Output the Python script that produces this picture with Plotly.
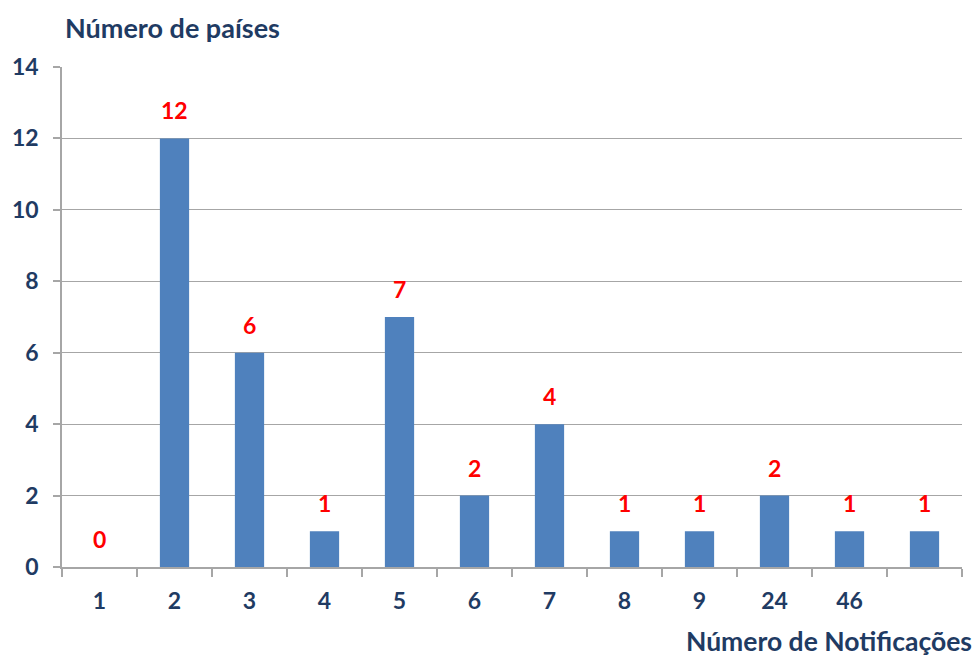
import plotly.graph_objects as go

categories = ["1", "2", "3", "4", "5", "6", "7", "8", "9", "24", "46", ""]
values = [0, 12, 6, 1, 7, 2, 4, 1, 1, 2, 1, 1]
y_ticks = [0, 2, 4, 6, 8, 10, 12, 14]

navy = "#1F3B63"
grid = "#A6A6A6"
font_family = "Lato, 'Open Sans', sans-serif"

xpos = list(range(len(categories)))

fig = go.Figure()
fig.add_trace(go.Bar(
    x=xpos, y=values, width=0.39,
    marker=dict(color="#4F81BD", line=dict(width=0)),
    hoverinfo="skip",
))

for xi, v in zip(xpos, values):
    fig.add_annotation(
        x=xi, y=v, xref="x", yref="y", text=f"<b>{v}</b>",
        showarrow=False, yanchor="bottom", yshift=12,
        font=dict(family=font_family, size=23, color="#FF0000"),
    )

fig.add_annotation(
    x=0, y=1, xref="paper", yref="paper", xanchor="left", yanchor="middle",
    xshift=1, yshift=40, text="<b>Número de países</b>", showarrow=False,
    font=dict(family=font_family, size=27, color=navy),
)
fig.add_annotation(
    x=1, y=0, xref="paper", yref="paper", xanchor="right", yanchor="middle",
    xshift=12, yshift=-74, text="<b>Número de Notificações</b>", showarrow=False,
    font=dict(family=font_family, size=26.5, color=navy),
)

fig.update_layout(
    width=974, height=657,
    margin=dict(l=62, r=12, t=67, b=90, autoexpand=False),
    paper_bgcolor="white", plot_bgcolor="white",
    showlegend=False,
    font=dict(family=font_family, color=navy),
)
fig.update_xaxes(
    automargin=False,
    range=[-0.5, len(categories) - 0.5],
    tickvals=xpos, ticktext=[f"<b>{c}</b>" for c in categories],
    ticks="", tickfont=dict(size=23, color=navy), ticklabelstandoff=13,
    showline=True, linecolor=grid, linewidth=1.5, showgrid=False, zeroline=False,
    minor=dict(tickvals=[i - 0.5 for i in range(len(categories) + 1)],
               ticks="outside", ticklen=8, tickcolor=grid, tickwidth=1.5,
               showgrid=False),
)
fig.update_yaxes(
    automargin=False,
    range=[0, 14], tickvals=y_ticks, ticktext=[f"<b>{t}</b>" for t in y_ticks],
    ticks="outside", ticklen=7, tickcolor=grid, tickwidth=1.5,
    tickfont=dict(size=23, color=navy), ticklabelstandoff=10,
    showline=True, linecolor=grid, linewidth=1.5,
    showgrid=True, gridcolor=grid, gridwidth=1.2, zeroline=False,
)

fig.write_html("out.html", config={"displayModeBar": False},
               post_script="document.body.style.margin='0px';")
